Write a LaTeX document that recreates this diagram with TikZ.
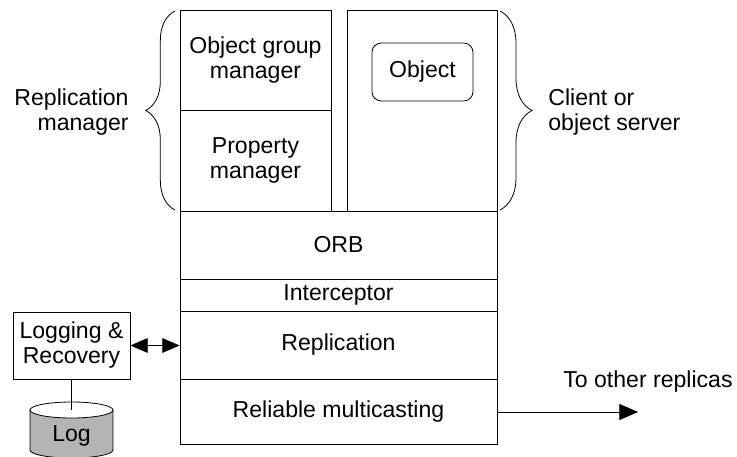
\documentclass[tikz,border=0pt]{standalone}
\usepackage{fontspec}
\setmainfont{Liberation Sans}
\usetikzlibrary{arrows.meta,decorations.pathreplacing}
\definecolor{logfill}{RGB}{180,180,180}
\begin{document}
\begin{tikzpicture}[x=0.75pt,y=-0.75pt,line width=0.6pt,
    font=\fontsize{17.3}{18.75}\selectfont,
    layer/.style={draw,rectangle,inner sep=0pt,align=center,minimum width=237.75pt},
    sidebox/.style={draw,rectangle,inner sep=0pt,align=center},
    bracemark/.style={decorate,decoration={brace,amplitude=#1}},
    bigtip/.style={-{Triangle[length=14pt,width=12pt]}}]
    \useasboundingbox (0,0) rectangle (737,456);
    % upper part
    \node[sidebox,minimum width=113.25pt,minimum height=75pt] (groupmgr) at (255.5,60) {Object group\\manager};
    \node[sidebox,minimum width=113.25pt,minimum height=75.75pt] (propmgr) at (255.5,160.5) {Property\\manager};
    \node[sidebox,minimum width=112.5pt,minimum height=150.75pt] (client) at (422,110.5) {};
    \node[sidebox,rounded corners=7pt,minimum width=75.75pt,minimum height=43.5pt] (object) at (422.5,72) {Object};
    % layers
    \node[layer,minimum height=51pt] (orb) at (338.5,245) {ORB};
    \node[layer,minimum height=24pt] (intercept) at (338.5,295) {Interceptor};
    \node[layer,minimum height=51pt] (repl) at (338.5,345) {Replication};
    \node[layer,minimum height=48.75pt] (multicast) at (338.5,411.5) {Reliable multicasting};
    % braces and labels
    \draw[bracemark=22pt] (175,210) -- (175,11);
    \draw[bracemark=24pt] (500,11) -- (500,210);
    \node[align=right,anchor=east,inner sep=0pt] (replmgr) at (129,112) {Replication\\manager};
    \node[align=left,anchor=west,inner sep=0pt] (server) at (548,112) {Client or\\object server};
    % logging
    \node[sidebox,minimum width=87.75pt,minimum height=50.25pt] (logbox) at (71.5,345.5) {Logging \&\\Recovery};
    \filldraw[fill=logfill] (30,410) -- (30,450) arc[start angle=180,end angle=360,x radius=31.1pt,y radius=6pt] -- (113,410) -- cycle;
    \filldraw[fill=white] (71.5,410) ellipse[x radius=31.1pt,y radius=6pt];
    \coordinate (logtop) at (71.5,410);
    \node (logdb) at (71.5,436) {Log};
    \draw (logbox.south) -- (logtop);
    \draw[{Triangle[length=13pt,width=11pt]}-{Triangle[length=13pt,width=11pt]}] (logbox.east) -- (logbox.east -| repl.west);
    % out
    \coordinate (outend) at (638,412);
    \draw[bigtip] (multicast.east |- outend) -- (outend);
    \node (others) at (648,382) {To other replicas};
\end{tikzpicture}
\end{document}
